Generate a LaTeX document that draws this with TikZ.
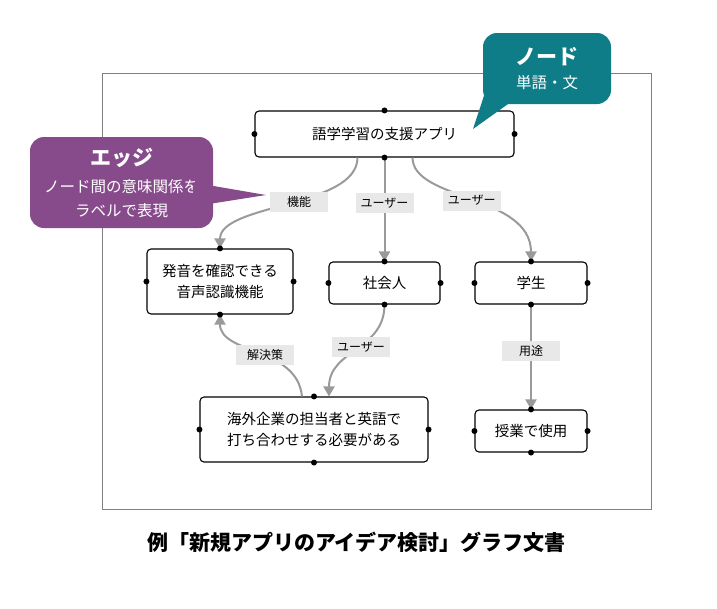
\documentclass[tikz,border=0pt]{standalone}
\usepackage{fontspec}
\setmainfont{Noto Sans CJK JP}
\usetikzlibrary{arrows.meta}
\definecolor{edgegray}{HTML}{9A9A9A}
\definecolor{labelgray}{HTML}{E8E8E8}
\definecolor{framegray}{HTML}{808080}
\definecolor{edgepurple}{HTML}{874A8B}
\definecolor{nodeteal}{HTML}{0E7D87}
\tikzset{
  box/.style={draw, rounded corners=4pt, line width=1.1pt, inner sep=0pt, align=center, font=\fontsize{14.5}{21}\selectfont},
  elabel/.style={fill=labelgray, inner sep=0pt, minimum width=58pt, minimum height=20pt, font=\fontsize{12}{14}\selectfont},
  conn/.style={-{Triangle[width=11pt,length=10pt]}, draw=edgegray, line width=2pt},
  anchordot/.style={circle, fill=black, inner sep=0pt, minimum size=6pt},
  note/.style={rounded corners=14pt, text=white, align=center, inner sep=0pt},
}

\begin{document}
\begin{tikzpicture}[x=1pt, y=-1pt]
    \useasboundingbox (0,0) rectangle (717,608);
    % 枠
    \draw[framegray, line width=0.8pt] (102,73) rectangle (651,509);

    % ノード
    \node[box, minimum width=259pt, minimum height=46pt] (app) at (384.5,134) {語学学習の支援アプリ};
    \node[box, minimum width=146pt, minimum height=65pt] (snd) at (220,281.5) {発音を確認できる\\音声認識機能};
    \node[box, minimum width=111pt, minimum height=42pt] (soc) at (384.5,283) {社会人};
    \node[box, minimum width=112pt, minimum height=42pt] (stu) at (531,283) {学生};
    \node[box, minimum width=228pt, minimum height=65pt] (need) at (314,429.5) {海外企業の担当者と英語で\\打ち合わせする必要がある};
    \node[box, minimum width=112pt, minimum height=42pt] (cls) at (531,431) {授業で使用};

    % エッジ
    \draw[conn] ([xshift=-27pt]app.south) .. controls +(0,50) and +(0,-45) .. (snd.north) node[elabel, pos=.45] {機能};
    \draw[conn] (app.south) -- node[elabel, pos=.44] {ユーザー} (soc.north);
    \draw[conn] ([xshift=28pt]app.south) .. controls +(0,43) and +(0,-67) .. (stu.north) node[elabel, pos=.5] {ユーザー};
    \draw[conn] (soc.south) .. controls +(0,46) and +(0,-47) .. ([xshift=15pt]need.north) node[elabel, pos=.45] {ユーザー};
    \draw[conn] ([xshift=-12pt]need.north) .. controls +(-5,-50) and +(0,40) .. (snd.south) node[elabel, pos=.45] {解決策};
    \draw[conn] (stu.south) -- node[elabel, pos=.44] {用途} (cls.north);

    % 端点
    \foreach \n in {app,snd,soc,stu,need,cls}
        \foreach \a in {north,south,east,west}
            \node[anchordot] (\n-\a) at (\n.\a) {};

    % 吹き出し
    \coordinate (edgetip) at (266,195);
    \coordinate (nodetip) at (473,129);
    \node[note, fill=edgepurple, minimum width=183pt, minimum height=91pt, font=\fontsize{15.5}{24}\selectfont] (edgenote) at (121.5,182.5)
        {{\bfseries\fontsize{21}{25}\selectfont エッジ}\\[3pt]ノード間の意味関係を\\ラベルで表現};
    \fill[edgepurple] ([xshift=-20pt]edgenote.east) -- (edgetip) -- ([xshift=-20pt,yshift=-24pt]edgenote.east) -- cycle;
    \node[note, fill=nodeteal, minimum width=128pt, minimum height=71pt, font=\fontsize{15.5}{22}\selectfont] (nodenote) at (547,68.5)
        {{\bfseries\fontsize{21}{25}\selectfont ノード}\\[2pt]単語・文};
    \fill[nodeteal] ([xshift=3pt,yshift=14pt]nodenote.south west) -- (nodetip) -- ([xshift=25pt]nodenote.south west) -- cycle;

    % タイトル
    \node[font=\bfseries\fontsize{21}{25}\selectfont] (title) at (356.5,542) {例「新規アプリのアイデア検討」グラフ文書};
\end{tikzpicture}
\end{document}
